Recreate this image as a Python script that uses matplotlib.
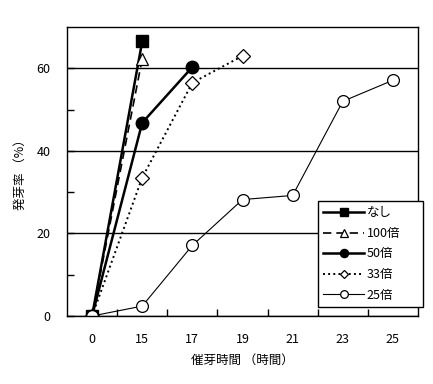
import matplotlib
matplotlib.use("Agg")
import matplotlib.pyplot as plt

plt.rcParams['font.family'] = ['Noto Sans CJK JP', 'DejaVu Sans']

# data
hours = ['0', '15', '17', '19', '21', '23', '25']
nashi = [0, 66.5]
bai100 = [0, 62.3]
bai50 = [0, 46.8, 60.3]
bai33 = [0, 33.5, 56.5, 63.0]
bai25 = [0, 2.4, 17.1, 28.2, 29.2, 52.0, 57.1]

fig = plt.figure(figsize=(4.33, 3.84), dpi=100)
ax = fig.add_axes([67/433, 1-316/384, 351/433, 289/384])

ax.plot(range(len(nashi)), nashi, '-', color='k', lw=1.8, marker='s', ms=9,
        mfc='k', mec='k', label='なし')
ax.plot(range(len(bai100)), bai100, '--', color='k', lw=1.2, marker='^', ms=8,
        mfc='white', mec='k', mew=0.9, label='100倍', dashes=(5, 3))
ax.plot(range(len(bai50)), bai50, '-', color='k', lw=1.8, marker='o', ms=9,
        mfc='k', mec='k', label='50倍')
ax.plot(range(len(bai33)), bai33, ':', color='k', lw=1.4, marker='D', ms=7,
        mfc='white', mec='k', mew=0.9, label='33倍')
ax.plot(range(len(bai25)), bai25, '-', color='k', lw=0.8, marker='o', ms=8.5,
        mfc='white', mec='k', mew=0.9, label='25倍')

ax.set_xlim(-0.5, len(hours) - 0.5)
ax.set_ylim(0, 70)

# x: ticks between categories, labels at centers
ax.set_xticks([i + 0.5 for i in range(len(hours) - 1)])
ax.set_xticklabels([])
ax.set_xticks(range(len(hours)), minor=True)
ax.set_xticklabels(hours, minor=True)
ax.tick_params(axis='x', which='major', direction='in', length=5, width=1)
ax.tick_params(axis='x', which='minor', length=0, pad=12, labelsize=9)

ax.set_yticks([0, 20, 40, 60])
ax.set_yticks([10, 30, 50], minor=True)
ax.tick_params(axis='y', which='both', direction='in', length=5, width=1,
               pad=12, labelsize=9)
ax.yaxis.grid(True, which='major', color='k', lw=1)
ax.set_axisbelow(True)

for s in ax.spines.values():
    s.set_linewidth(1)
    s.set_color('k')

ax.set_xlabel('催芽時間 （時間）', fontsize=9, labelpad=6)
ax.set_ylabel('発芽率 （%）', fontsize=9, labelpad=7)

leg = ax.legend(loc='center', bbox_to_anchor=(318/433, 1-310/384, 105/433, 112/384),
                bbox_transform=fig.transFigure, mode='expand', fancybox=False,
                framealpha=1, edgecolor='k', fontsize=9, handlelength=3.3,
                handletextpad=0.2, borderpad=0.4, labelspacing=0.6,
                borderaxespad=0, markerscale=0.65)
leg.get_frame().set_linewidth(1)
leg.set_zorder(5)

fig.savefig('out.png', dpi=100)
